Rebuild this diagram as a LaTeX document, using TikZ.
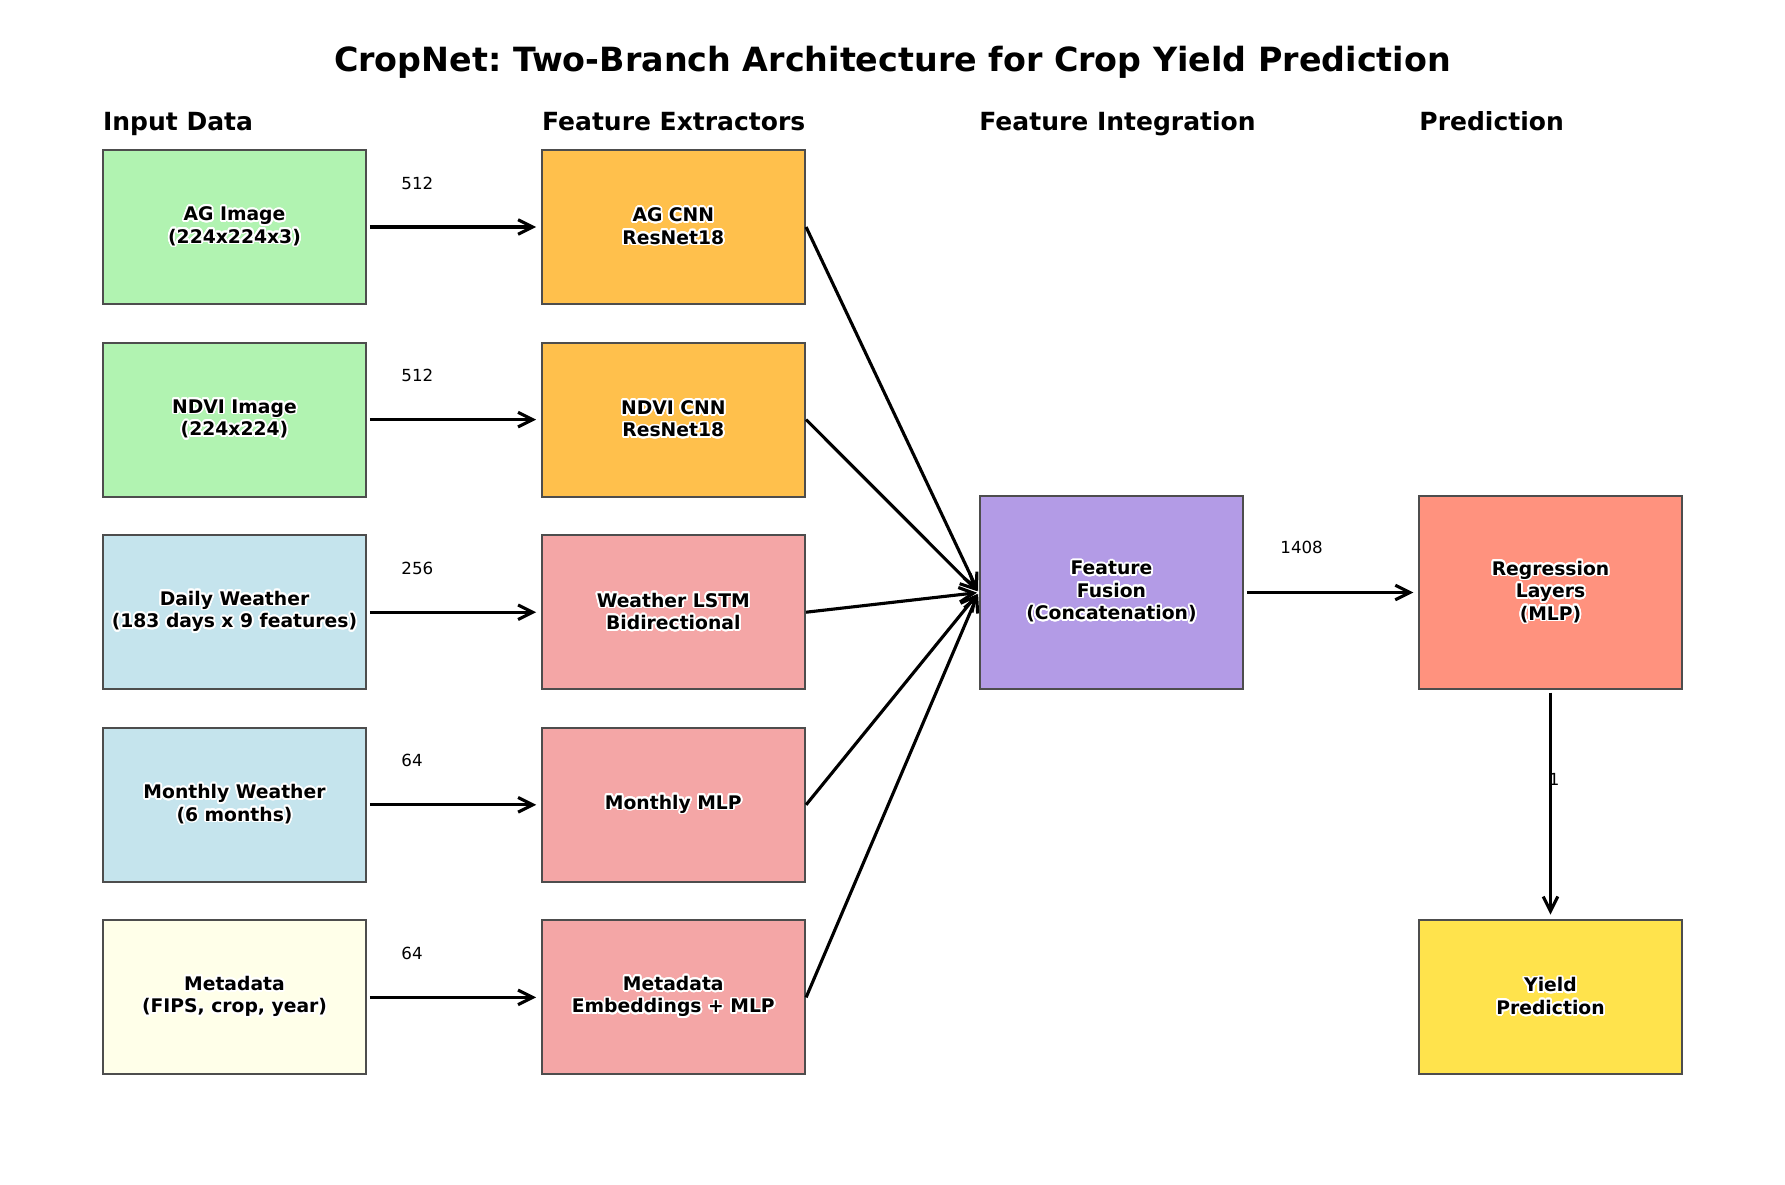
\documentclass[tikz,border=0pt]{standalone}
\usepackage{fontspec}
\setmainfont{DejaVu Sans}
\usepackage{contour}
\contourlength{0.85bp}
\contournumber{24}
\usetikzlibrary{arrows.meta}
\frenchspacing
\definecolor{cgreen}{HTML}{B1F3B1}
\definecolor{cblue}{HTML}{C5E4ED}
\definecolor{cyellow}{HTML}{FFFFE9}
\definecolor{corange}{HTML}{FFC04C}
\definecolor{cpink}{HTML}{F4A6A6}
\definecolor{cpurple}{HTML}{B39BE6}
\definecolor{ctomato}{HTML}{FF927E}
\definecolor{cgold}{HTML}{FFE34C}
\definecolor{cedge}{HTML}{4D4D4D}
\newcommand\halo[1]{\contour{white}{#1}}
\def\px{0.48bp}
\tikzset{
  box/.style={draw=cedge, line width=1bp, minimum width=263.5*\px, minimum height=154*\px,
    inner sep=0pt, align=center, font=\fontsize{9bp}{10.8bp}\selectfont\bfseries},
  bigbox/.style={box, minimum height=193*\px},
  header/.style={anchor=base west, inner sep=0pt, font=\fontsize{12bp}{14.4bp}\selectfont\bfseries},
  dimlabel/.style={anchor=base west, inner sep=0pt, font=\fontsize{8bp}{9.6bp}\selectfont},
  conn/.style={line width=1.5bp, -{Straight Barb[length=7bp,width=7bp]}, shorten <=1.2bp, shorten >=2.1bp},
  merge/.style={line width=1.5bp, -{Straight Barb[length=7bp,width=7bp]}, shorten >=0.8bp}
}
\begin{document}
\begin{tikzpicture}[x=0.48bp, y=-0.48bp]
\useasboundingbox[fill=white] (0,0) rectangle (1785,1185);
\node[anchor=base, inner sep=0pt, font=\fontsize{16bp}{19.2bp}\selectfont\bfseries] (title) at (892.5,71.7) {CropNet: Two-Branch Architecture for Crop Yield Prediction};
\node[header] (h1) at (102.7,130.5) {Input Data};
\node[header] (h2) at (541.7,130.5) {Feature Extractors};
\node[header] (h3) at (979,130.5) {Feature Integration};
\node[header] (h4) at (1419,130.5) {Prediction};
% inputs
\node[box, fill=cgreen] (in1) at (234.5,227) {\halo{AG Image}\\\halo{(224x224x3)}};
\node[box, fill=cgreen] (in2) at (234.5,419.6) {\halo{NDVI Image}\\\halo{(224x224)}};
\node[box, fill=cblue] (in3) at (234.5,612.2) {\halo{Daily Weather}\\\halo{(183 days x 9 features)}};
\node[box, fill=cblue] (in4) at (234.5,804.8) {\halo{Monthly Weather}\\\halo{(6 months)}};
\node[box, fill=cyellow] (in5) at (234.5,997.4) {\halo{Metadata}\\\halo{(FIPS, crop, year)}};
% extractors
\node[box, fill=corange] (fe1) at (673.3,227) {\halo{AG CNN}\\\halo{ResNet18}};
\node[box, fill=corange] (fe2) at (673.3,419.6) {\halo{NDVI CNN}\\\halo{ResNet18}};
\node[box, fill=cpink] (fe3) at (673.3,612.2) {\halo{Weather LSTM}\\\halo{Bidirectional}};
\node[box, fill=cpink] (fe4) at (673.3,804.8) {\halo{Monthly MLP}};
\node[box, fill=cpink] (fe5) at (673.3,997.4) {\halo{Metadata}\\\halo{Embeddings + MLP}};
% integration and prediction
\node[bigbox, fill=cpurple] (fus) at (1111.5,592.5) {\halo{Feature}\\\halo{Fusion}\\\halo{(Concatenation)}};
\node[bigbox, fill=ctomato] (reg) at (1550.5,592.5) {\halo{Regression}\\\halo{Layers}\\\halo{(MLP)}};
\node[box, fill=cgold] (yld) at (1550.5,997) {\halo{Yield}\\\halo{Prediction}};
% connectors
\foreach \i in {1,...,5} {
  \draw[conn] (in\i) -- (fe\i);
  \draw[merge] (fe\i.east) -- (fus.west);
}
\draw[conn] (fus) -- (reg);
\draw[conn] (reg) -- (yld);
% dimension labels
\node[dimlabel] (l1) at (401,189) {512};
\node[dimlabel] (l2) at (401,381.6) {512};
\node[dimlabel] (l3) at (401,574.2) {256};
\node[dimlabel] (l4) at (401,766.8) {64};
\node[dimlabel] (l5) at (401,959.4) {64};
\node[dimlabel] (l6) at (1280,553.3) {1408};
\node[dimlabel] (l7) at (1548.5,785) {1};
\end{tikzpicture}
\end{document}
